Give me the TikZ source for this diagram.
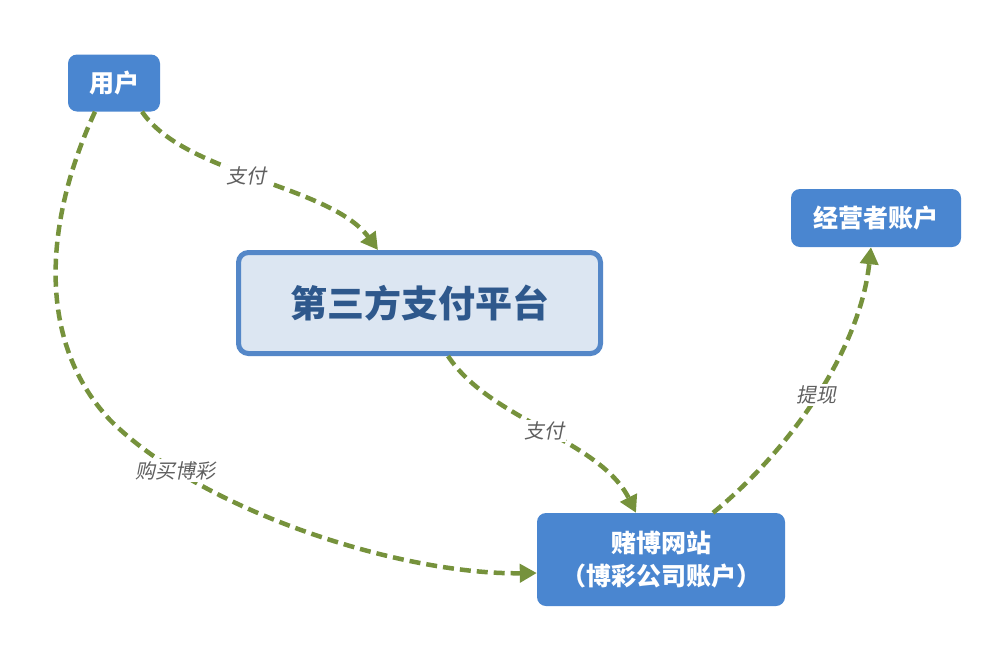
\documentclass[tikz,border=0pt]{standalone}
\usepackage{fontspec}
\setmainfont{Noto Sans CJK SC}
\newfontfamily\lblfont{Noto Sans CJK SC}[FakeSlant=0.2]
\usetikzlibrary{arrows.meta,calc}
\definecolor{boxblue}{RGB}{74,134,208}
\definecolor{platfill}{RGB}{220,230,242}
\definecolor{platborder}{RGB}{84,135,200}
\definecolor{plattext}{RGB}{46,88,140}
\definecolor{flowgreen}{RGB}{118,146,60}
\definecolor{lblgray}{RGB}{95,95,95}
\begin{document}
\begin{tikzpicture}[x=1pt,y=-1pt,
  bluebox/.style={draw=none, fill=boxblue, rounded corners=9pt, text=white,
    font=\bfseries\fontsize{25}{33}\selectfont, align=center, inner sep=0pt},
  platbox/.style={draw=platborder, line width=5pt, fill=platfill, rounded corners=10pt,
    text=plattext, font=\bfseries\fontsize{37}{40}\selectfont, inner sep=0pt},
  flow/.style={draw=flowgreen, line width=4.5pt, dash pattern=on 11pt off 6pt,
    -{Triangle[length=17pt,width=18pt]}},
  lbl/.style={fill=white, text=lblgray, inner sep=2pt, font=\lblfont\fontsize{20}{22}\selectfont}
]
\useasboundingbox (0,0) rectangle (999,662);
\fill[white] (0,0) rectangle (999,662);

\node[bluebox, minimum width=92pt, minimum height=57pt] (u) at (114,83) {用户};
\node[platbox, minimum width=362pt, minimum height=101pt] (p) at (419.5,303) {第三方支付平台};
\node[bluebox, minimum width=170pt, minimum height=58pt] (e) at (876,218) {经营者账户};
\node[bluebox, minimum width=248pt, minimum height=93pt] (g) at (661,559.5) {赌博网站\\（博彩公司账户）};

% user -> platform
\draw[flow] ([xshift=28pt]u.south) .. controls (185,175) and (330,185) .. ([xshift=-41.5pt]p.north)
  node[lbl, pos=0.46] {支付};
% user -> gambling site
\draw[flow] ([xshift=-19pt]u.south) .. controls (45,220) and (35,340) .. (110,420)
  .. controls (200,510) and (400,575) .. ([yshift=-13.5pt]g.west)
  node[lbl, pos=0.2] {购买博彩};
% platform -> gambling site
\draw[flow] ([xshift=28.5pt]p.south) .. controls (490,420) and (600,440) .. ([xshift=-25pt]g.north)
  node[lbl, pos=0.5] {支付};
% gambling site -> operator account
\draw[flow] ([xshift=52pt]g.north) .. controls (790,450) and (860,350) .. ([xshift=-5pt]e.south)
  node[lbl, pos=0.5] {提现};
\end{tikzpicture}
\end{document}
